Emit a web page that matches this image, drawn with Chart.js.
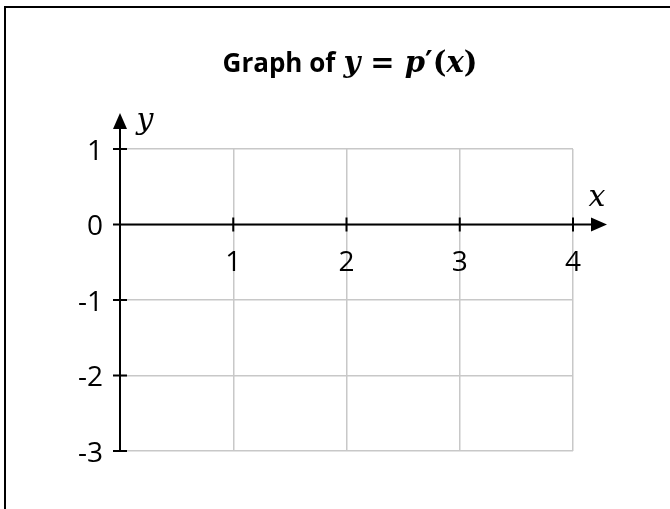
<!DOCTYPE html>
<html>
<head>
<meta charset="utf-8">
<script src="https://cdn.jsdelivr.net/npm/chart.js@4"></script>
<style>
  body { margin: 0; background: #fff; }
  #wrap { position: relative; width: 670px; height: 509px; overflow: hidden; }
  #frame { position: absolute; left: 4px; top: 6px; width: 700px; height: 520px;
           border-left: 2px solid #000; border-top: 2px solid #000; }
  #title { position: absolute; left: 0; width: 700px; top: 44px; text-align: center;
           white-space: nowrap; line-height: 36px; color: #000; }
  #title .t { font: bold 26px "Open Sans", sans-serif; }
  #title .m { font: bold 29px "DejaVu Serif", serif; }
  #title .m i { font-style: italic; }
</style>
</head>
<body>
<div id="wrap">
  <div id="frame"></div>
  <canvas id="graph"></canvas>
  <div id="title"><span class="t">Graph of</span>&nbsp;&nbsp;<span class="m"><i>y</i> = <i>p</i>′(<i>x</i>)</span></div>
</div>
<script>
// axis ranges and tick labels
const xTicks = [0, 1, 2, 3, 4];
const yTicks = [1, 0, -1, -2, -3];
const xRange = [0, 4];
const yRange = [-3, 1];

const tickFont = { family: 'Open Sans', size: 28 };

// draws the black axes through the origin, arrows, crossing ticks and axis names
const axesPlugin = {
  id: 'axesPlugin',
  afterDraw(chart) {
    const ctx = chart.ctx;
    const xs = chart.scales.x, ys = chart.scales.y;
    const x0 = xs.getPixelForValue(0), y0 = ys.getPixelForValue(0);
    const xEnd = xs.getPixelForValue(xRange[1]) + 34;
    const yTop = ys.getPixelForValue(yRange[1]) - 36;
    const yBot = ys.getPixelForValue(yRange[0]);
    ctx.save();
    ctx.strokeStyle = '#000';
    ctx.fillStyle = '#000';
    ctx.lineWidth = 2;
    ctx.beginPath();
    ctx.moveTo(x0, y0); ctx.lineTo(xEnd - 14, y0);
    ctx.moveTo(x0, yBot); ctx.lineTo(x0, yTop + 14);
    xTicks.forEach(v => {
      if (v === 0) return;
      const px = xs.getPixelForValue(v);
      ctx.moveTo(px, y0 - 7); ctx.lineTo(px, y0 + 7);
    });
    yTicks.forEach(v => {
      const py = ys.getPixelForValue(v);
      ctx.moveTo(x0 - 7, py); ctx.lineTo(x0 + 7, py);
    });
    ctx.stroke();
    // arrow heads
    ctx.beginPath();
    ctx.moveTo(xEnd, y0); ctx.lineTo(xEnd - 16, y0 - 7); ctx.lineTo(xEnd - 16, y0 + 7);
    ctx.closePath();
    ctx.moveTo(x0, yTop); ctx.lineTo(x0 - 7, yTop + 16); ctx.lineTo(x0 + 7, yTop + 16);
    ctx.closePath();
    ctx.fill();
    // axis names
    ctx.font = 'italic 30px "DejaVu Serif", serif';
    ctx.textAlign = 'center';
    ctx.textBaseline = 'alphabetic';
    ctx.fillText('x', xEnd - 10, y0 - 19);
    ctx.fillText('y', x0 + 25, yTop + 16);
    ctx.restore();
  }
};

new Chart(document.getElementById('graph'), {
  type: 'scatter',
  data: { datasets: [{ data: [], showLine: false }] },
  options: {
    responsive: true,
    maintainAspectRatio: false,
    animation: false,
    events: [],
    layout: { padding: { left: 0, top: 149, right: 97, bottom: 58 } },
    plugins: { legend: { display: false }, tooltip: { enabled: false }, title: { display: false } },
    scales: {
      x: {
        type: 'linear',
        position: { y: 0 },
        min: xRange[0],
        max: xRange[1],
        afterBuildTicks: s => { s.ticks = xTicks.map(v => ({ value: v })); },
        grid: { color: '#c8c8c8', lineWidth: 1.5, drawTicks: false },
        border: { display: false },
        ticks: {
          color: '#000',
          font: tickFont,
          padding: 22,
          callback: v => v === 0 ? '' : v
        }
      },
      y: {
        type: 'linear',
        min: yRange[0],
        max: yRange[1],
        afterBuildTicks: s => { s.ticks = yTicks.map(v => ({ value: v })); },
        afterFit: s => { s.width = 120; },
        grid: { color: '#c8c8c8', lineWidth: 1.5, drawTicks: false },
        border: { display: false },
        ticks: {
          color: '#000',
          font: tickFont,
          padding: 17,
          labelOffset: 3,
          callback: v => v
        }
      }
    }
  },
  plugins: [axesPlugin]
});
</script>
</body>
</html>
